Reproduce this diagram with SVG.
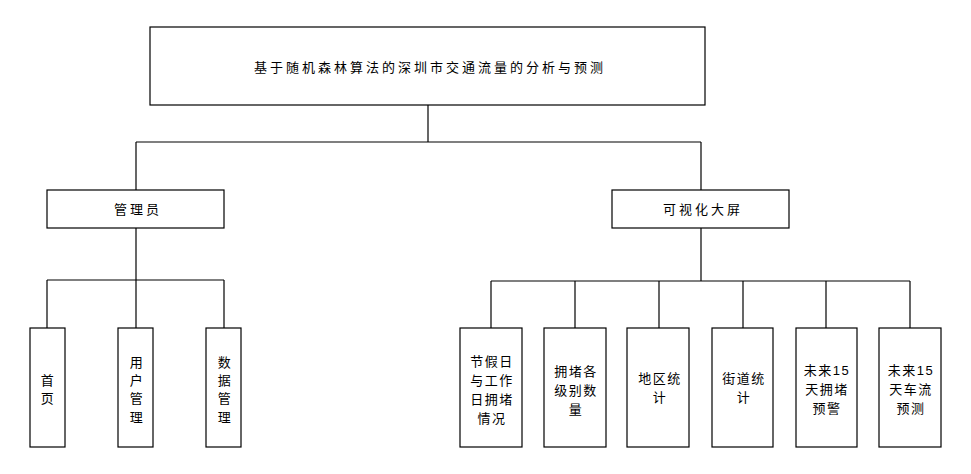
<svg xmlns="http://www.w3.org/2000/svg" width="971" height="474" viewBox="0 0 971 474">
<style>
rect{fill:#fff;stroke:#000;stroke-width:1.2}
.c line{stroke:#000;stroke-width:1.2}
text{font-family:"Liberation Sans","Noto Sans CJK SC",sans-serif;font-size:13px;text-anchor:middle;dominant-baseline:central;fill:#000;letter-spacing:1.5px}
.t{letter-spacing:3px}
</style>
<rect width="971" height="474" style="stroke:none"/>
<g class="c">
<line x1="428" y1="105" x2="428" y2="142"/><line x1="136" y1="142" x2="701" y2="142"/>
<line x1="136" y1="142" x2="136" y2="190"/><line x1="701" y1="142" x2="701" y2="190"/>
<line x1="136" y1="228" x2="136" y2="280"/><line x1="47" y1="280" x2="224" y2="280"/>
<line x1="47" y1="280" x2="47" y2="328"/><line x1="136" y1="280" x2="136" y2="328"/><line x1="224" y1="280" x2="224" y2="328"/>
<line x1="701" y1="228" x2="701" y2="281"/><line x1="491" y1="281" x2="910" y2="281"/>
<line x1="491" y1="281" x2="491" y2="328"/><line x1="575" y1="281" x2="575" y2="328"/><line x1="659" y1="281" x2="659" y2="328"/>
<line x1="743" y1="281" x2="743" y2="328"/><line x1="826" y1="281" x2="826" y2="328"/><line x1="910" y1="281" x2="910" y2="328"/>
</g>
<g id="root"><rect x="150" y="27" width="555" height="78"/><text class="t" x="430" y="67">基于随机森林算法的深圳市交通流量的分析与预测</text></g>
<g id="admin"><rect x="47" y="190" width="177" height="38"/><text class="t" x="138" y="209">管理员</text></g>
<g id="screen"><rect x="612" y="190" width="177" height="38"/><text class="t" x="703" y="209">可视化大屏</text></g>
<g id="home"><rect x="30" y="328" width="35" height="119"/><text x="48" y="380">首</text><text x="48" y="398">页</text></g>
<g id="user"><rect x="118" y="328" width="35" height="119"/><text x="137" y="362">用</text><text x="137" y="380">户</text><text x="137" y="398">管</text><text x="137" y="417">理</text></g>
<g id="data"><rect x="206" y="328" width="35" height="119"/><text x="225" y="362">数</text><text x="225" y="380">据</text><text x="225" y="398">管</text><text x="225" y="417">理</text></g>
<g id="n1"><rect x="460" y="328" width="62" height="119"/><text x="492" y="361">节假日</text><text x="492" y="380">与工作</text><text x="492" y="399">日拥堵</text><text x="492" y="418">情况</text></g>
<g id="n2"><rect x="544" y="328" width="62" height="119"/><text x="576" y="371">拥堵各</text><text x="576" y="390">级别数</text><text x="576" y="409">量</text></g>
<g id="n3"><rect x="627" y="328" width="62" height="119"/><text x="660" y="378">地区统</text><text x="660" y="397">计</text></g>
<g id="n4"><rect x="712" y="328" width="61" height="119"/><text x="744" y="378">街道统</text><text x="744" y="397">计</text></g>
<g id="n5"><rect x="796" y="328" width="61" height="119"/><text x="827" y="370">未来15</text><text x="827" y="389">天拥堵</text><text x="827" y="408">预警</text></g>
<g id="n6"><rect x="879" y="328" width="62" height="119"/><text x="911" y="370">未来15</text><text x="911" y="389">天车流</text><text x="911" y="408">预测</text></g>
</svg>
